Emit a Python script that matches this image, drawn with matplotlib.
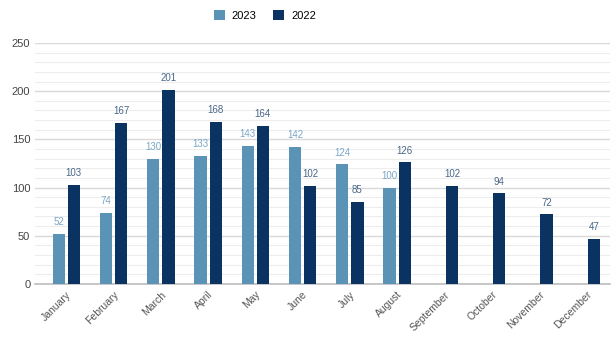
import matplotlib
matplotlib.use("Agg")
import matplotlib.pyplot as plt
from matplotlib.ticker import MultipleLocator
import numpy as np

months = ["January", "February", "March", "April", "May", "June", "July",
          "August", "September", "October", "November", "December"]
sales_2023 = [52, 74, 130, 133, 143, 142, 124, 100, None, None, None, None]
sales_2022 = [103, 167, 201, 168, 164, 102, 85, 126, 102, 94, 72, 47]

c23 = "#5b93b6"
c22 = "#0b3362"

plt.rcParams["font.family"] = ["Liberation Sans", "DejaVu Sans"]

fig = plt.figure(figsize=(6.16, 3.47), dpi=100)
ax = fig.add_axes([0.057, 0.182, 0.933, 0.694])

x = np.arange(len(months))
w = 0.26
off = w / 2 + 0.03
v23 = np.array([np.nan if v is None else v for v in sales_2023], dtype=float)
v22 = np.array(sales_2022, dtype=float)

b23 = ax.bar(x - off, v23, w, color=c23, label="2023", zorder=3)
b22 = ax.bar(x + off, v22, w, color=c22, label="2022", zorder=3)

for xi, v in zip(x, v23):
    if not np.isnan(v):
        ax.text(xi - off, v + 7, f"{int(v)}", ha="center", va="bottom",
                fontsize=7, color="#7aa6c6")
for xi, v in zip(x, v22):
    ax.text(xi + off, v + 7, f"{int(v)}", ha="center", va="bottom",
            fontsize=7, color="#4a6787")

ax.set_ylim(0, 250)
ax.set_xlim(-0.66, 11.5)
ax.yaxis.set_major_locator(MultipleLocator(50))
ax.yaxis.set_minor_locator(MultipleLocator(10))
ax.grid(axis="y", which="major", color="#d9d9d9", linewidth=1.0, zorder=0)
ax.grid(axis="y", which="minor", color="#ededed", linewidth=0.8, zorder=0)
ax.set_axisbelow(True)

for s in ["top", "right", "left"]:
    ax.spines[s].set_visible(False)
ax.spines["bottom"].set_color("#bdbdbd")
ax.spines["bottom"].set_linewidth(1.2)

ax.set_xticks(x)
ax.set_xticklabels(months, rotation=45, ha="right", rotation_mode="anchor",
                   fontsize=7.5, color="#555555")
ax.tick_params(axis="x", length=0, pad=4)
ax.tick_params(axis="y", which="both", length=0, labelsize=8, colors="#444444")

fig.legend(handles=[b23, b22], labels=["2023", "2022"], loc="upper center",
           bbox_to_anchor=(0.43, 1.0), ncol=2, frameon=False, fontsize=8,
           handlelength=1.0, handleheight=1.0, columnspacing=1.5, handletextpad=0.6)

fig.savefig("out.png", dpi=100)
